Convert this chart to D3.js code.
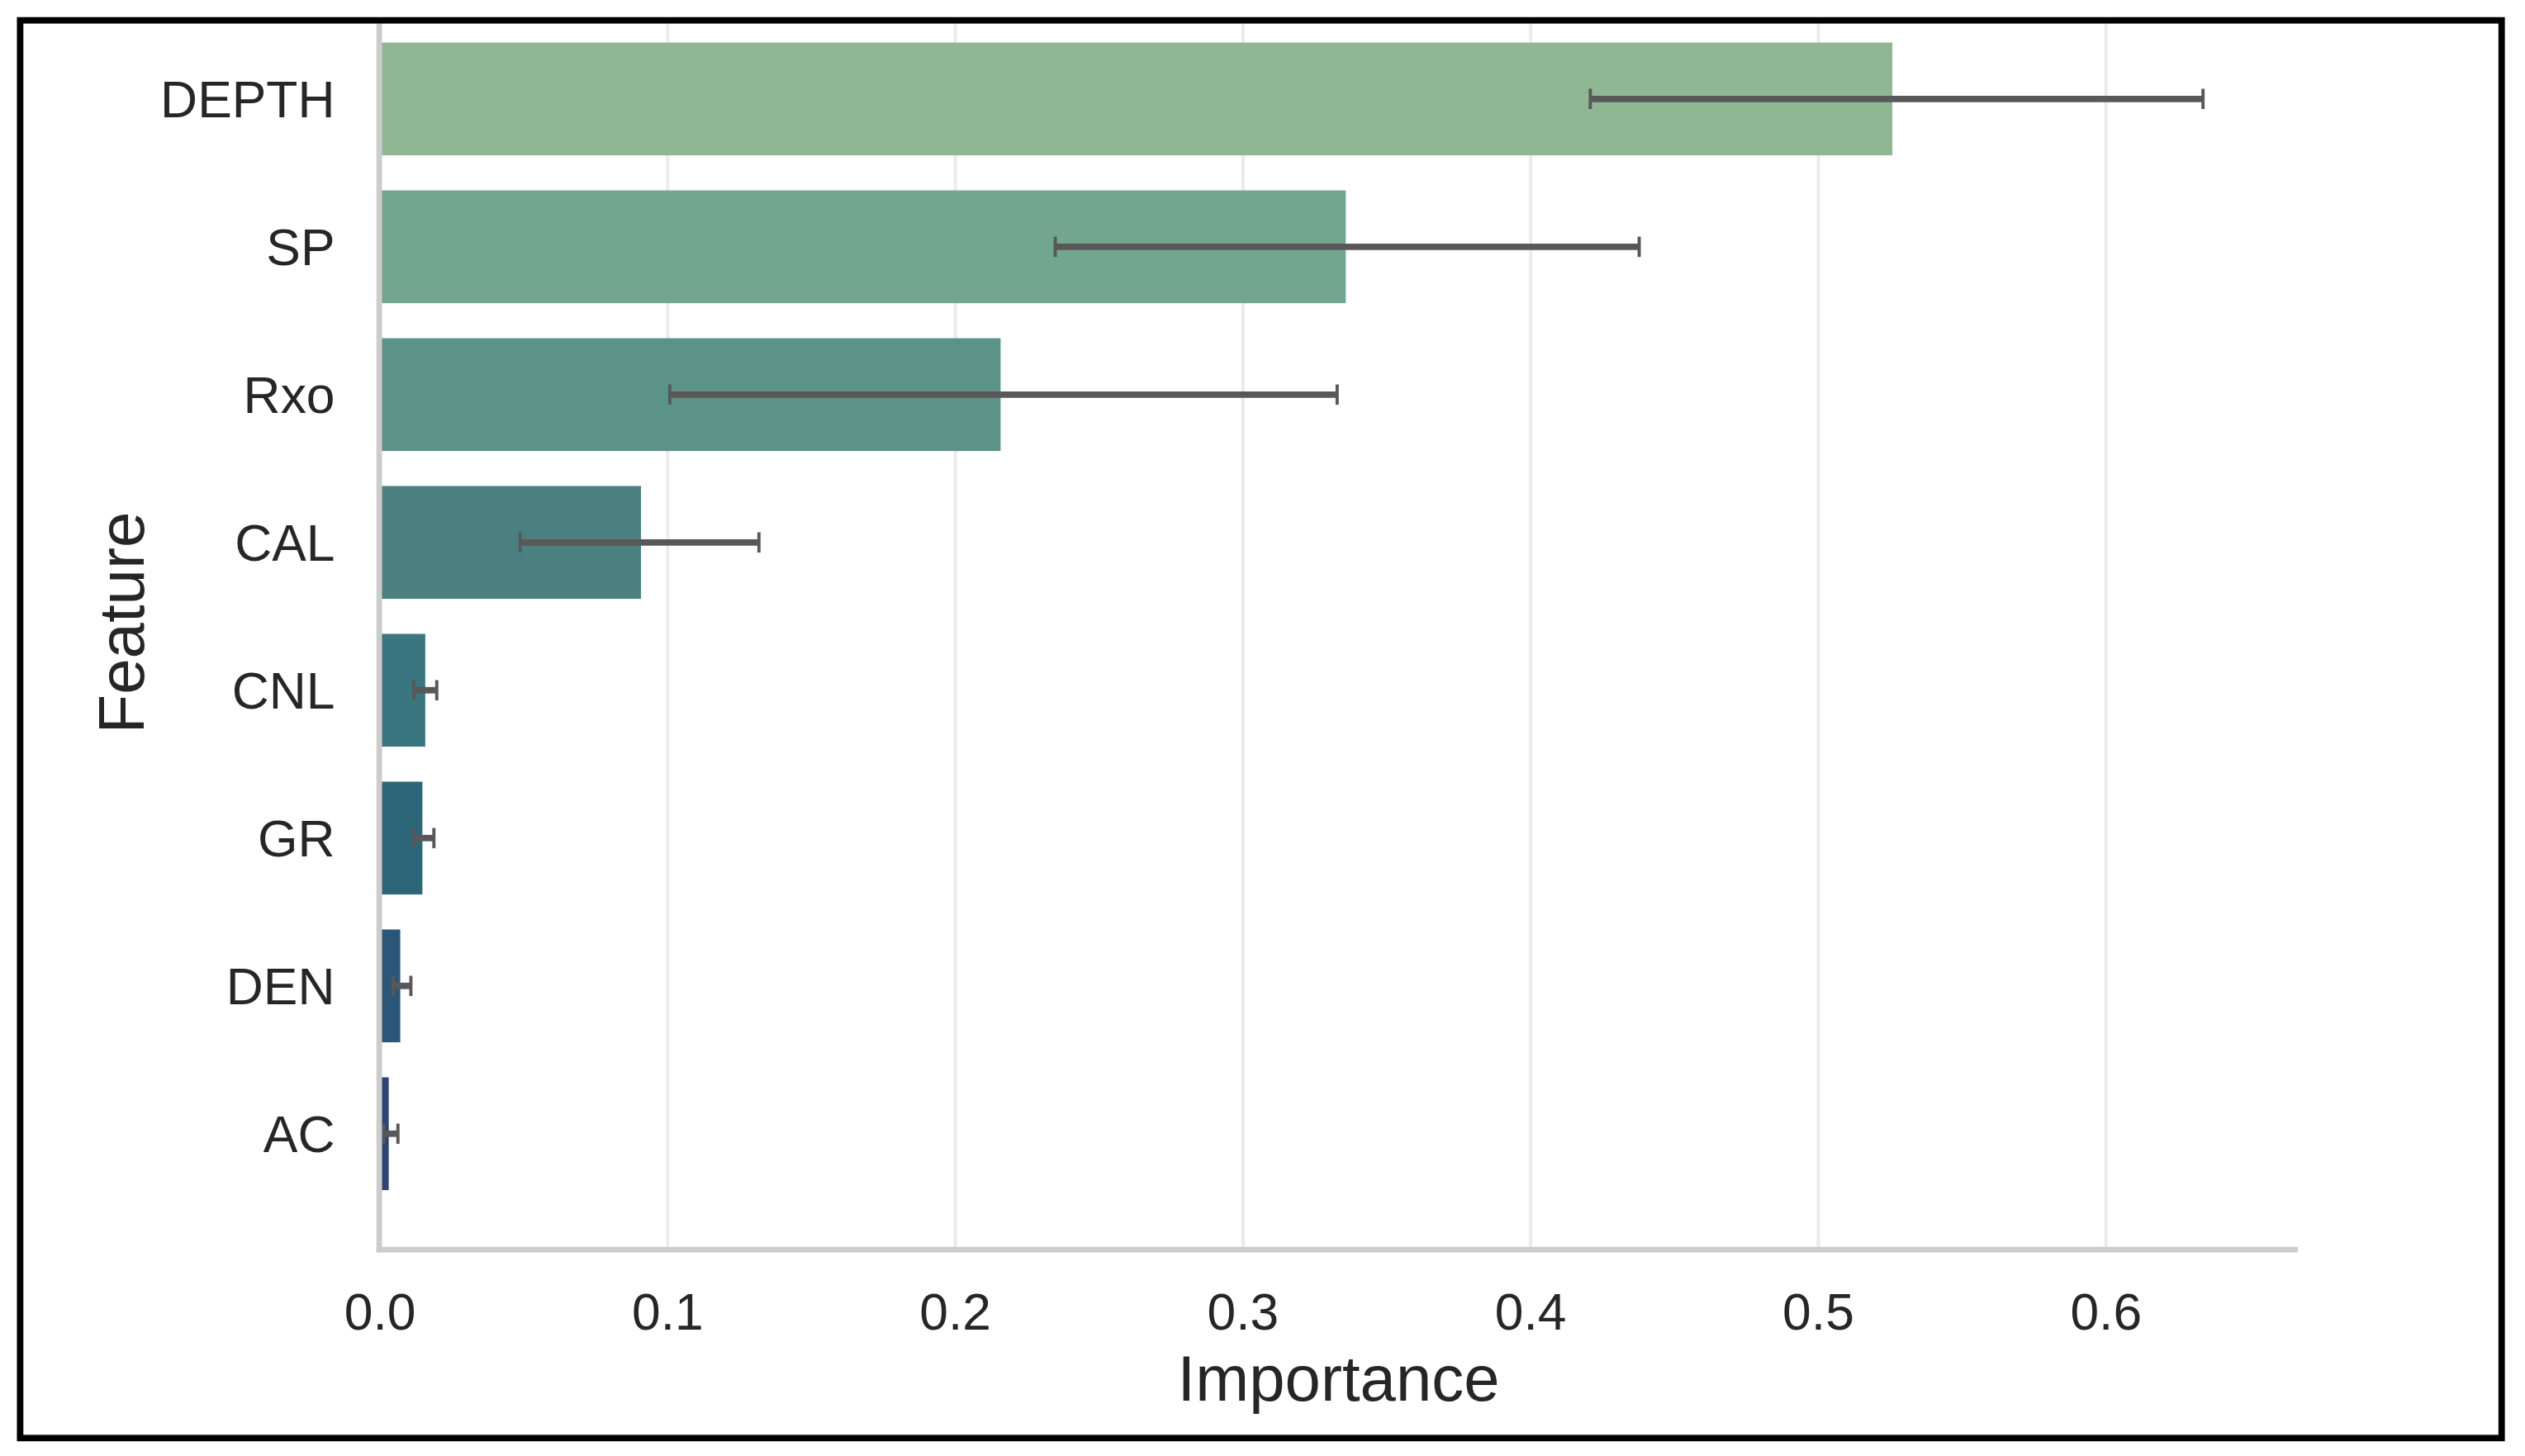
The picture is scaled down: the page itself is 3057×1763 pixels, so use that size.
<!DOCTYPE html>
<html>
<head>
<meta charset="utf-8">
<script src="https://cdn.jsdelivr.net/npm/d3@7"></script>
<style>
  html, body { margin: 0; padding: 0; background: #fff; overflow: hidden; }
  text { font-family: "Liberation Sans", Arial, Helvetica, sans-serif; fill: #262626; }
</style>
</head>
<body>
<svg id="chart"></svg>
<script>
// feature importance (mean + error bar ends)
var features = ["DEPTH", "SP", "Rxo", "CAL", "CNL", "GR", "DEN", "AC"];
var importance = [0.526, 0.336, 0.216, 0.091, 0.016, 0.015, 0.0073, 0.0033];
var errLow = [0.421, 0.235, 0.101, 0.049, 0.012, 0.012, 0.0048, 0.0016];
var errHigh = [0.634, 0.438, 0.333, 0.132, 0.020, 0.019, 0.011, 0.0065];
var barColors = ["#8fb794", "#72a68e", "#5c9389", "#4a8080", "#3a7680", "#2d6679", "#2c5678", "#2b4573"];
var xTicks = [0, 0.1, 0.2, 0.3, 0.4, 0.5, 0.6];

// drawing units follow a 1568 x 904 frame, scaled up to the window
var W = 1568, H = 904;
var svg = d3.select("#chart")
    .attr("width", 3057)
    .attr("height", 1763)
    .attr("viewBox", "0 0 " + W + " " + H);

var frameTop = 12.5;
var axisY = 776;

var x = d3.scaleLinear().domain([0, 0.667]).range([235.5, 1427]);
var y = d3.scaleBand().domain(features).range([-10.7, axisY])
    .paddingInner(0.237).paddingOuter(0.403);

var data = features.map(function(f, i) {
    return {name: f, value: importance[i], lo: errLow[i], hi: errHigh[i], color: barColors[i]};
});

svg.append("defs").append("clipPath").attr("id", "plotclip")
    .append("rect").attr("x", 0).attr("y", frameTop + 2).attr("width", W).attr("height", H);

var plot = svg.append("g").attr("clip-path", "url(#plotclip)");

// vertical grid
var grid = plot.append("g")
    .attr("transform", "translate(0," + axisY + ")")
    .call(d3.axisBottom(x).tickValues(xTicks).tickSize(-(axisY - frameTop)).tickFormat(""));
grid.select(".domain").remove();
grid.selectAll("line").attr("stroke", "#ebebeb").attr("stroke-width", 2);

// bars
plot.selectAll("rect.bar").data(data).enter().append("rect")
    .attr("class", "bar")
    .attr("x", x(0))
    .attr("y", function(d) { return y(d.name); })
    .attr("width", function(d) { return x(d.value) - x(0); })
    .attr("height", y.bandwidth())
    .attr("fill", function(d) { return d.color; });

// error bars
var capHalf = 6.3;
var eb = plot.selectAll("g.err").data(data).enter().append("g").attr("class", "err");
eb.append("line")
    .attr("x1", function(d) { return x(d.lo); })
    .attr("x2", function(d) { return x(d.hi); })
    .attr("y1", function(d) { return y(d.name) + y.bandwidth() / 2; })
    .attr("y2", function(d) { return y(d.name) + y.bandwidth() / 2; })
    .attr("stroke", "#585858").attr("stroke-width", 4);
["lo", "hi"].forEach(function(k) {
    eb.append("line")
        .attr("x1", function(d) { return x(d[k]); })
        .attr("x2", function(d) { return x(d[k]); })
        .attr("y1", function(d) { return y(d.name) + y.bandwidth() / 2 - capHalf; })
        .attr("y2", function(d) { return y(d.name) + y.bandwidth() / 2 + capHalf; })
        .attr("stroke", "#585858").attr("stroke-width", 2);
});

// spines
plot.append("line")
    .attr("x1", x(0)).attr("x2", x(0))
    .attr("y1", frameTop).attr("y2", axisY + 1.75)
    .attr("stroke", "#cccccc").attr("stroke-width", 3.5);
plot.append("line")
    .attr("x1", x(0) - 1.75).attr("x2", x.range()[1])
    .attr("y1", axisY).attr("y2", axisY)
    .attr("stroke", "#cccccc").attr("stroke-width", 3.5);

// x axis labels
var xAxis = svg.append("g")
    .attr("transform", "translate(0," + axisY + ")")
    .call(d3.axisBottom(x).tickValues(xTicks).tickSize(0).tickPadding(27).tickFormat(d3.format(".1f")));
xAxis.select(".domain").remove();
xAxis.selectAll("text").attr("font-size", 32).attr("fill", "#262626")
    .style("font-family", "'Liberation Sans', Arial, sans-serif");

// y axis labels
var yAxis = svg.append("g")
    .attr("transform", "translate(" + x(0) + ",0)")
    .call(d3.axisLeft(y).tickSize(0).tickPadding(27.5));
yAxis.select(".domain").remove();
yAxis.selectAll("text").attr("font-size", 32).attr("dy", "0.36em").attr("fill", "#262626")
    .style("font-family", "'Liberation Sans', Arial, sans-serif");

// axis titles
svg.append("text")
    .attr("x", (x.range()[0] + x.range()[1]) / 2)
    .attr("y", 870)
    .attr("text-anchor", "middle")
    .attr("font-size", 40)
    .text("Importance");

svg.append("text")
    .attr("transform", "translate(89," + ((y.range()[0] + y.range()[1]) / 2 + 4) + ") rotate(-90)")
    .attr("text-anchor", "middle")
    .attr("font-size", 40)
    .text("Feature");

// black frame
svg.append("rect")
    .attr("x", 12.5).attr("y", frameTop)
    .attr("width", 1541).attr("height", 880.5)
    .attr("fill", "none")
    .attr("stroke", "#000")
    .attr("stroke-width", 4);
</script>
</body>
</html>
